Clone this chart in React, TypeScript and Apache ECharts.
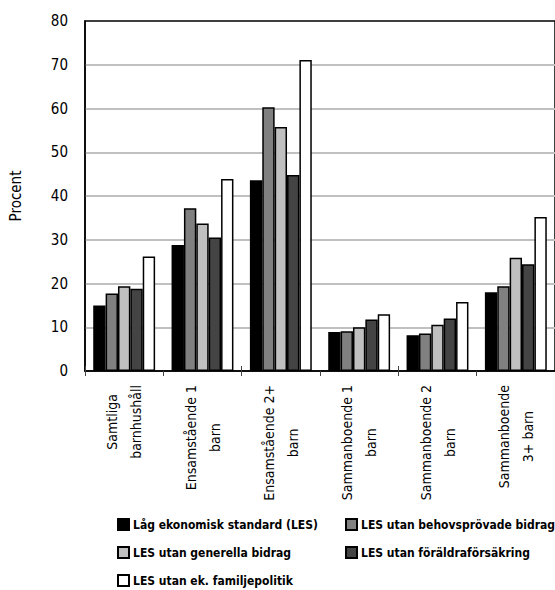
import React, { useEffect, useRef } from "react";
import * as echarts from "echarts";

const FONT = "'DejaVu Sans Condensed', 'Liberation Sans Narrow', sans-serif";

const categories = [
  "Samtliga\nbarnhushåll",
  "Ensamstående 1\nbarn",
  "Ensamstående 2+\nbarn",
  "Sammanboende 1\nbarn",
  "Sammanboende 2\nbarn",
  "Sammanboende\n3+ barn",
];

const seriesNames = [
  "Låg ekonomisk standard (LES)",
  "LES utan behovsprövade bidrag",
  "LES utan generella bidrag",
  "LES utan föräldraförsäkring",
  "LES utan ek. familjepolitik",
];

const les = [15.0, 28.8, 43.6, 8.9, 8.2, 18.0];
const utanBehov = [17.7, 37.2, 60.3, 9.1, 8.6, 19.4];
const utanGenerella = [19.4, 33.7, 55.8, 10.0, 10.6, 25.9];
const utanForaldra = [18.8, 30.5, 44.8, 11.8, 12.0, 24.4];
const utanFamilj = [26.2, 43.9, 71.1, 13.0, 15.8, 35.2];

const seriesValues = [les, utanBehov, utanGenerella, utanForaldra, utanFamilj];
const seriesColors = ["#000000", "#808080", "#c0c0c0", "#444444", "#ffffff"];

const yTicks = [0, 10, 20, 30, 40, 50, 60, 70, 80];

const legendPos = [
  { left: 117, top: 518 },
  { left: 345, top: 518 },
  { left: 117, top: 546 },
  { left: 345, top: 546 },
  { left: 117, top: 574 },
];

export default function App() {
  const ref = useRef<HTMLDivElement>(null);
  useEffect(() => {
    if (!ref.current) return;
    const chart = echarts.init(ref.current, undefined, { renderer: "svg" });
    const option: any = {
      animation: false,
      backgroundColor: "#ffffff",
      textStyle: { fontFamily: FONT },
      grid: {
        left: 81,
        top: 21,
        width: 480,
        height: 350,
        show: true,
        borderColor: "#000",
        borderWidth: 1.5,
        backgroundColor: "transparent",
      },
      legend: seriesNames.map((n, i) => ({
        data: [n],
        left: legendPos[i].left,
        top: legendPos[i].top,
        padding: 0,
        itemWidth: 11,
        itemHeight: 11,
        itemGap: 0,
        icon: "rect",
        selectedMode: false,
        textStyle: {
          fontFamily: FONT,
          fontSize: 12,
          fontWeight: "bold",
          color: "#000",
          padding: [0, 0, 0, -1],
        },
      })),
      xAxis: [
        {
          type: "category",
          data: categories,
          position: "bottom",
          axisLine: { lineStyle: { color: "#000", width: 1.5 } },
          axisTick: { show: true, length: 5, lineStyle: { color: "#444", width: 1 } },
          axisLabel: {
            rotate: 90,
            margin: 14,
            color: "#000",
            formatter: (v: string) =>
              v
                .split("\n")
                .map((s) => `{c|${s}}`)
                .join("\n"),
            rich: {
              c: {
                align: "center",
                fontFamily: FONT,
                fontSize: 14,
                lineHeight: 24,
                color: "#000",
              },
            },
          },
          splitLine: { show: false },
        },
        {
          type: "category",
          data: categories,
          position: "bottom",
          axisLine: { show: false },
          axisTick: { show: true, inside: true, length: 5, lineStyle: { color: "#444", width: 1 } },
          axisLabel: { show: false },
          splitLine: { show: false },
        },
      ],
      yAxis: {
        type: "value",
        min: yTicks[0],
        max: yTicks[yTicks.length - 1],
        interval: 10,
        name: "Procent",
        nameLocation: "middle",
        nameRotate: 90,
        nameGap: 62,
        nameTextStyle: { fontFamily: FONT, fontSize: 15, color: "#000" },
        axisLine: { show: true, lineStyle: { color: "#000", width: 1.5 } },
        axisTick: { show: false },
        axisLabel: { margin: 17, fontFamily: FONT, fontSize: 15, color: "#000" },
        splitLine: {
          show: true,
          showMaxLine: false,
          showMinLine: false,
          lineStyle: { color: "#c0c0c0", width: 2 },
        },
      },
      series: seriesNames.map((n, i) => ({
        name: n,
        type: "bar",
        data: seriesValues[i],
        barGap: "0%",
        barCategoryGap: "21%",
        itemStyle: {
          color: seriesColors[i],
          borderColor: "#000",
          borderWidth: 1.5,
        },
      })),
    };
    chart.setOption(option);
    return () => chart.dispose();
  }, []);
  return <div ref={ref} style={{ width: 555, height: 590, position: "absolute", left: 0, top: 0 }} />;
}
